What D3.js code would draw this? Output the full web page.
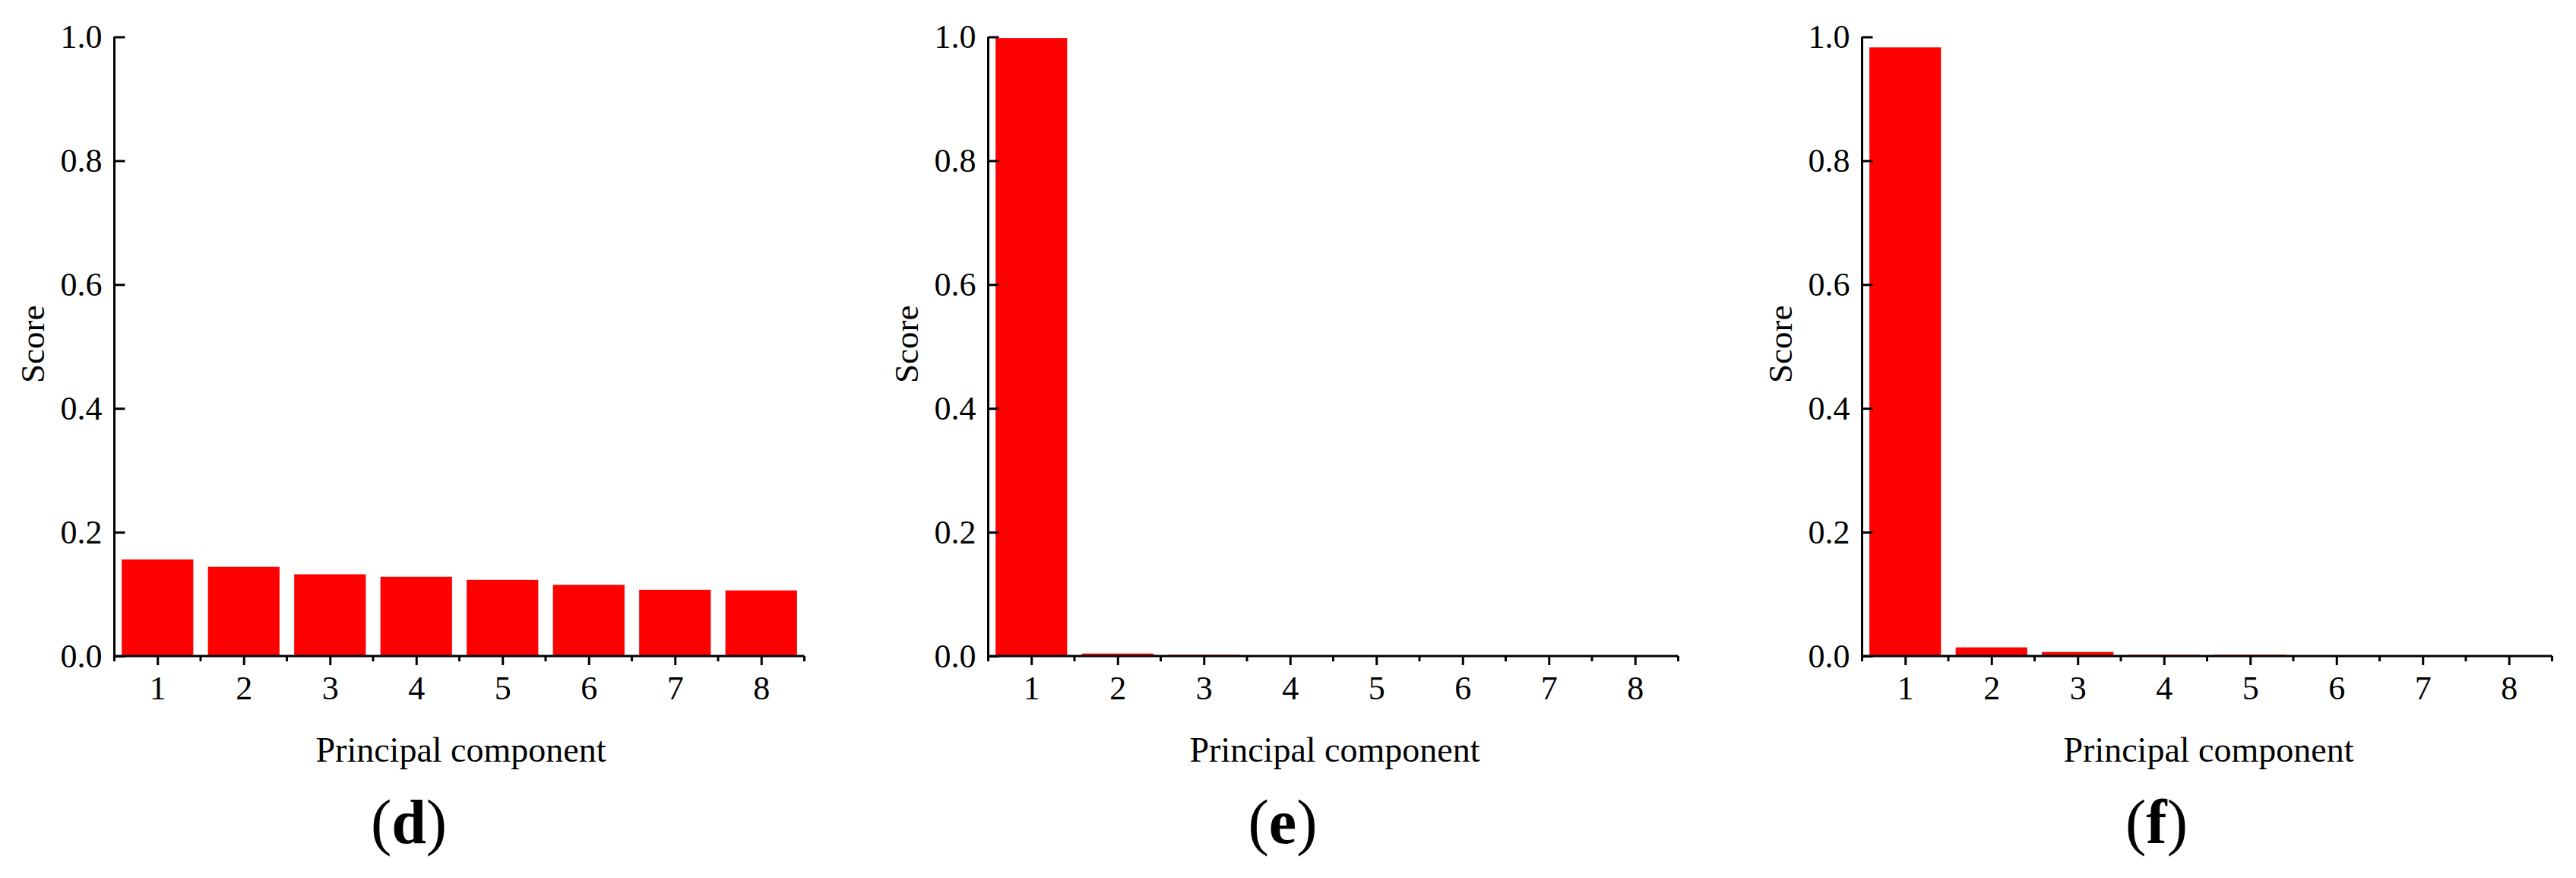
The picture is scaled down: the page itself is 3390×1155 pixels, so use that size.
<!DOCTYPE html>
<html>
<head>
<meta charset="utf-8">
<script src="https://cdn.jsdelivr.net/npm/d3@7/dist/d3.min.js"></script>
<style>
  html, body { margin: 0; padding: 0; background: #fff; }
  svg { display: block; }
  text { font-family: "Liberation Serif", "Times New Roman", serif; fill: #000; }
</style>
</head>
<body>
<svg id="chart" width="3390" height="1155"></svg>
<script>
// ---- data ----
const components = [1, 2, 3, 4, 5, 6, 7, 8];
const scoresD = [0.156, 0.144, 0.132, 0.128, 0.123, 0.115, 0.107, 0.106];
const scoresE = [0.998, 0.004, 0.002, 0.0001, 0.0001, 0.0001, 0.0001, 0.0001];
const scoresF = [0.983, 0.014, 0.0065, 0.002, 0.002, 0.0001, 0.0001, 0.0001];
const yTickValues = [0.0, 0.2, 0.4, 0.6, 0.8, 1.0];
const panelLabels = ["d", "e", "f"];
const xTitle = "Principal component";
const yTitle = "Score";

const panels = [
  { label: panelLabels[0], values: scoresD },
  { label: panelLabels[1], values: scoresE },
  { label: panelLabels[2], values: scoresF }
];

// ---- layout ----
const svg = d3.select("#chart");
const panelStep = 1150;
const axisLeft = 150.5;
const axisWidth = 908;
const yTop = 48.5, yBottom = 863;
const barFrac = 0.83;
const stroke = 3;

panels.forEach((p, i) => {
  const ox = i * panelStep;
  const g = svg.append("g").attr("transform", `translate(${ox},0)`);

  const x = d3.scaleLinear().domain([0.5, 8.5]).range([axisLeft, axisLeft + axisWidth]);
  const y = d3.scaleLinear().domain([0, 1]).range([yBottom, yTop]);
  const bw = (x(1) - x(0)) * barFrac;

  // bars
  g.selectAll("rect.bar")
    .data(components.map((c, k) => ({ c, v: p.values[k] })))
    .join("rect")
    .attr("class", "bar")
    .attr("x", d => x(d.c) - bw / 2)
    .attr("width", bw)
    .attr("y", d => y(d.v))
    .attr("height", d => y(0) - y(d.v))
    .attr("fill", "#ff0000");

  // y axis (ticks inward)
  const yAxis = d3.axisRight(y)
    .tickValues(yTickValues)
    .tickSize(14)
    .tickFormat("");
  const yg = g.append("g").attr("transform", `translate(${axisLeft},0)`).call(yAxis);
  yg.select(".domain").attr("d", `M0,${yBottom}V${yTop}`).attr("stroke-width", stroke).attr("stroke", "#000");
  yg.selectAll(".tick line").attr("stroke-width", stroke).attr("stroke", "#000");

  // y tick labels
  g.selectAll("text.ytl")
    .data(yTickValues)
    .join("text")
    .attr("class", "ytl")
    .attr("x", axisLeft - 16)
    .attr("y", d => y(d))
    .attr("dy", "0.34em")
    .attr("text-anchor", "end")
    .attr("font-size", 44)
    .text(d => d3.format(".1f")(d));

  // x axis major ticks (outward, down)
  const xAxis = d3.axisBottom(x)
    .tickValues(components)
    .tickSize(12)
    .tickPadding(14)
    .tickFormat(d3.format("d"));
  const xg = g.append("g").attr("transform", `translate(0,${yBottom})`).call(xAxis);
  xg.select(".domain").attr("d", `M${x(0.5)},0H${x(8.5)}`).attr("stroke-width", stroke).attr("stroke", "#000");
  xg.selectAll(".tick line").attr("stroke-width", stroke).attr("stroke", "#000");
  xg.selectAll(".tick text")
    .attr("font-size", 44)
    .attr("font-family", "Liberation Serif, Times New Roman, serif")
    .attr("fill", "#000");

  // x minor ticks at half positions
  const minorVals = d3.range(0.5, 9, 1);
  g.selectAll("line.minor")
    .data(minorVals)
    .join("line")
    .attr("class", "minor")
    .attr("x1", d => x(d)).attr("x2", d => x(d))
    .attr("y1", yBottom).attr("y2", yBottom + 7)
    .attr("stroke", "#000").attr("stroke-width", stroke);

  // axis titles
  g.append("text")
    .attr("x", (x(0.5) + x(8.5)) / 2 + 2)
    .attr("y", 1001.5)
    .attr("text-anchor", "middle")
    .attr("font-size", 46)
    .text(xTitle);

  g.append("text")
    .attr("transform", `translate(58,${(yTop + yBottom) / 2 - 3}) rotate(-90)`)
    .attr("text-anchor", "middle")
    .attr("font-size", 45)
    .text(yTitle);

  // panel label
  const lab = g.append("text")
    .attr("x", 538)
    .attr("y", 1109)
    .attr("text-anchor", "middle")
    .attr("font-size", 82);
  lab.append("tspan").text("(");
  lab.append("tspan").attr("font-weight", "bold").text(p.label);
  lab.append("tspan").text(")");
});
</script>
</body>
</html>
